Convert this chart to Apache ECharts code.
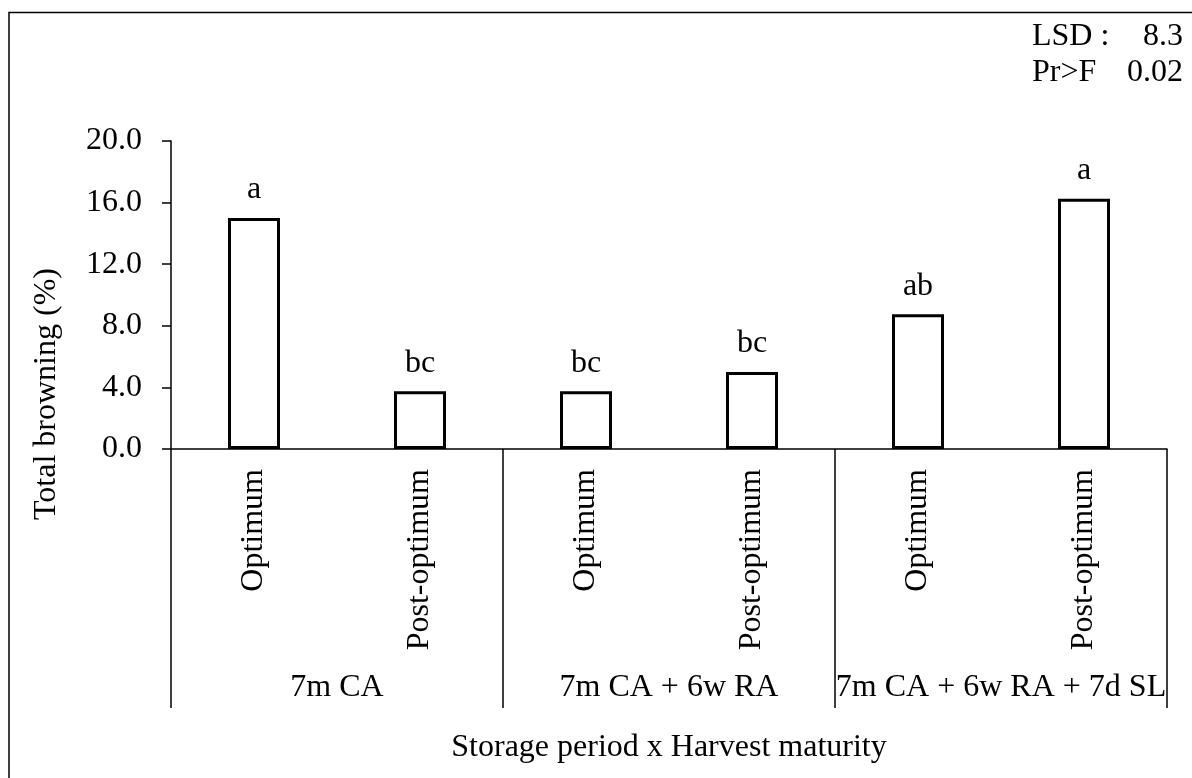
<!DOCTYPE html>
<html>
<head>
<meta charset="utf-8">
<script src="https://cdn.jsdelivr.net/npm/echarts@6/dist/echarts.min.js"></script>
<style>
html,body{margin:0;padding:0;background:#fff;}
#chart{width:1192px;height:778px;}
</style>
</head>
<body>
<div id="chart"></div>
<script>
var categories = ['Optimum', 'Post-optimum', 'Optimum', 'Post-optimum', 'Optimum', 'Post-optimum'];
var groups = ['7m CA', '7m CA + 6w RA', '7m CA + 6w RA + 7d SL'];
var values = [15.0, 3.75, 3.75, 5.0, 8.75, 16.25];
var letters = ['a', 'bc', 'bc', 'bc', 'ab', 'a'];
var yTicks = [0, 4, 8, 12, 16, 20];
var statsLabels = ['LSD :', 'Pr>F'];
var statsValues = ['8.3', '0.02'];
var yTitle = 'Total browning (%)';
var xTitle = 'Storage period x Harvest maturity';

var FONT = "'Liberation Serif', 'Times New Roman', serif";
var FS = 32;

var chart = echarts.init(document.getElementById('chart'), null, {renderer: 'canvas'});

var graphics = [
  {type: 'polyline', shape: {points: [[9, 778], [9, 12.5], [1192, 12.5]]},
   style: {stroke: '#000', lineWidth: 1.5, fill: null}, silent: true},
  {type: 'text', x: 47, y: 394, rotation: Math.PI / 2,
   style: {text: yTitle, font: FS + 'px ' + FONT, fill: '#000', align: 'center', verticalAlign: 'middle'}},
  {type: 'text', x: 669, y: 748,
   style: {text: xTitle, font: FS + 'px ' + FONT, fill: '#000', align: 'center', verticalAlign: 'middle'}}
];
for (var i = 0; i < statsLabels.length; i++) {
  graphics.push({type: 'text', x: 1032, y: 37 + i * 36,
    style: {text: statsLabels[i], font: FS + 'px ' + FONT, fill: '#000', align: 'left', verticalAlign: 'middle'}});
  graphics.push({type: 'text', x: 1183, y: 37 + i * 36,
    style: {text: statsValues[i], font: FS + 'px ' + FONT, fill: '#000', align: 'right', verticalAlign: 'middle'}});
}

var option = {
  backgroundColor: '#fff',
  animation: false,
  grid: {left: 171, right: 25, top: 141, bottom: 329, containLabel: false},
  xAxis: [
    {
      type: 'category',
      data: categories,
      position: 'bottom',
      axisLine: {show: true, lineStyle: {color: '#000', width: 1.5}},
      axisTick: {show: false},
      axisLabel: {rotate: 90, margin: 20, fontSize: FS, fontFamily: FONT, color: '#000', interval: 0}
    },
    {
      type: 'category',
      data: groups,
      position: 'bottom',
      axisLine: {show: false},
      axisTick: {show: true, length: 259, lineStyle: {color: '#000', width: 1.5}, interval: 0},
      axisLabel: {margin: 223, fontSize: FS, fontFamily: FONT, color: '#000', interval: 0}
    }
  ],
  yAxis: {
    type: 'value',
    min: 0, max: 20, interval: 4,
    axisLine: {show: true, lineStyle: {color: '#000', width: 1.5}},
    axisTick: {show: true, length: 9, inside: false, lineStyle: {color: '#000', width: 1.5}},
    splitLine: {show: false},
    axisLabel: {margin: 29, fontSize: FS, fontFamily: FONT, color: '#000',
      formatter: function (v) { return yTicks.indexOf(v) >= 0 ? v.toFixed(1) : ''; }}
  },
  series: [{
    type: 'bar',
    xAxisIndex: 0,
    data: values,
    barWidth: 52,
    itemStyle: {color: '#fff', borderColor: '#000', borderWidth: 3},
    label: {
      show: true, position: 'top', distance: 12,
      fontSize: FS, fontFamily: FONT, color: '#000',
      formatter: function (p) { return letters[p.dataIndex]; }
    }
  }],
  graphic: graphics
};
chart.setOption(option);
</script>
</body>
</html>
